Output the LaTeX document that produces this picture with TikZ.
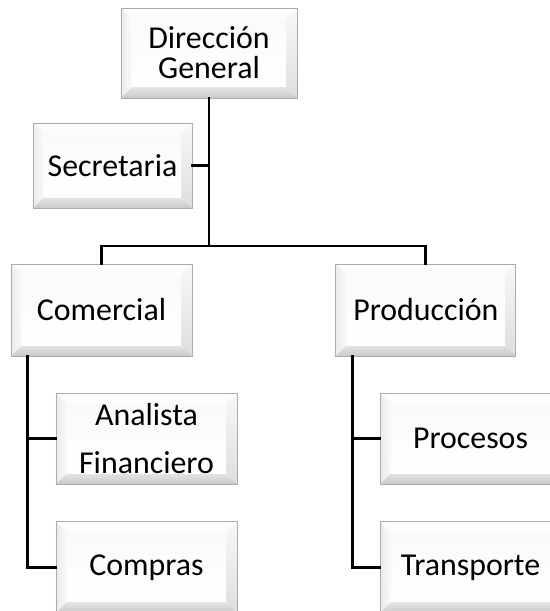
\documentclass[tikz,border=0pt]{standalone}
\usepackage{fontspec}
\setmainfont{Carlito}
\usetikzlibrary{positioning,calc}

\tikzset{
  puesto/.style={rectangle, draw=gray!65, line width=0.9bp, align=center,
    minimum width=181bp, minimum height=91bp, inner sep=0pt,
    font=\fontsize{32}{30}\selectfont,
    path picture={
      \coordinate (pa) at (path picture bounding box.south west);
      \coordinate (pb) at (path picture bounding box.north east);
      \coordinate (pc) at (path picture bounding box.north west);
      \coordinate (pd) at (path picture bounding box.south east);
      \fill[gray!2] (pc) -- (pb) -- ($(pb)+(-11bp,-11bp)$) -- ($(pc)+(11bp,-11bp)$) -- cycle;
      \shade[left color=gray!16, right color=gray!4] (pc) -- (pa) -- ($(pa)+(11bp,11bp)$) -- ($(pc)+(11bp,-11bp)$) -- cycle;
      \shade[top color=gray!6, bottom color=gray!26] (pb) -- (pd) -- ($(pd)+(-11bp,11bp)$) -- ($(pb)+(-11bp,-11bp)$) -- cycle;
      \shade[top color=gray!20, bottom color=gray!42] (pa) -- (pd) -- ($(pd)+(-11bp,11bp)$) -- ($(pa)+(11bp,11bp)$) -- cycle;
      \shade[top color=gray!4, bottom color=white] ($(pa)+(11bp,11bp)$) rectangle ($(pb)+(-11bp,-11bp)$);
    }},
  linea/.style={line width=2.9bp, line cap=rect}
}

\begin{document}
\begin{tikzpicture}[x=1bp, y=-1bp, node distance=37bp]
 \clip (0,0) rectangle (550,611);
 \fill[white] (0,0) rectangle (550,611);

 \node[puesto, minimum width=176bp, minimum height=90bp] (dir) at (209,53) {Dirección\\General};
 \node[puesto, minimum width=159bp, minimum height=85bp] (sec) at (112.5,165.5) {Secretaria};

 \node[puesto, minimum height=92bp] (com) at (101.5,310) {Comercial};
 \node[puesto, minimum width=180bp, minimum height=92bp] (prod) [right=143bp of com] {Producción};

 \node[puesto] (ana) at (146.5,438.5) {Analista\\[19bp]Financiero};
 \node[puesto] (compras) [below=of ana] {Compras};

 \node[puesto] (proc) at (470.5,438.5) {Procesos};
 \node[puesto] (trans) [below=of proc] {Transporte};

 \coordinate (bar) at (209,246);
 \coordinate (comleg) at ([xshift=17bp]com.south west);
 \coordinate (prodleg) at ([xshift=17bp]prod.south west);

 \draw[linea] (dir.south) -- (bar);
 \draw[linea] (sec.east) -- (sec.east -| dir.south);
 \draw[linea] (com.north) |- (bar) -| (prod.north);
 \draw[linea] (comleg) |- (ana.west);
 \draw[linea] (comleg) |- (compras.west);
 \draw[linea] (prodleg) |- (proc.west);
 \draw[linea] (prodleg) |- (trans.west);
\end{tikzpicture}
\end{document}
